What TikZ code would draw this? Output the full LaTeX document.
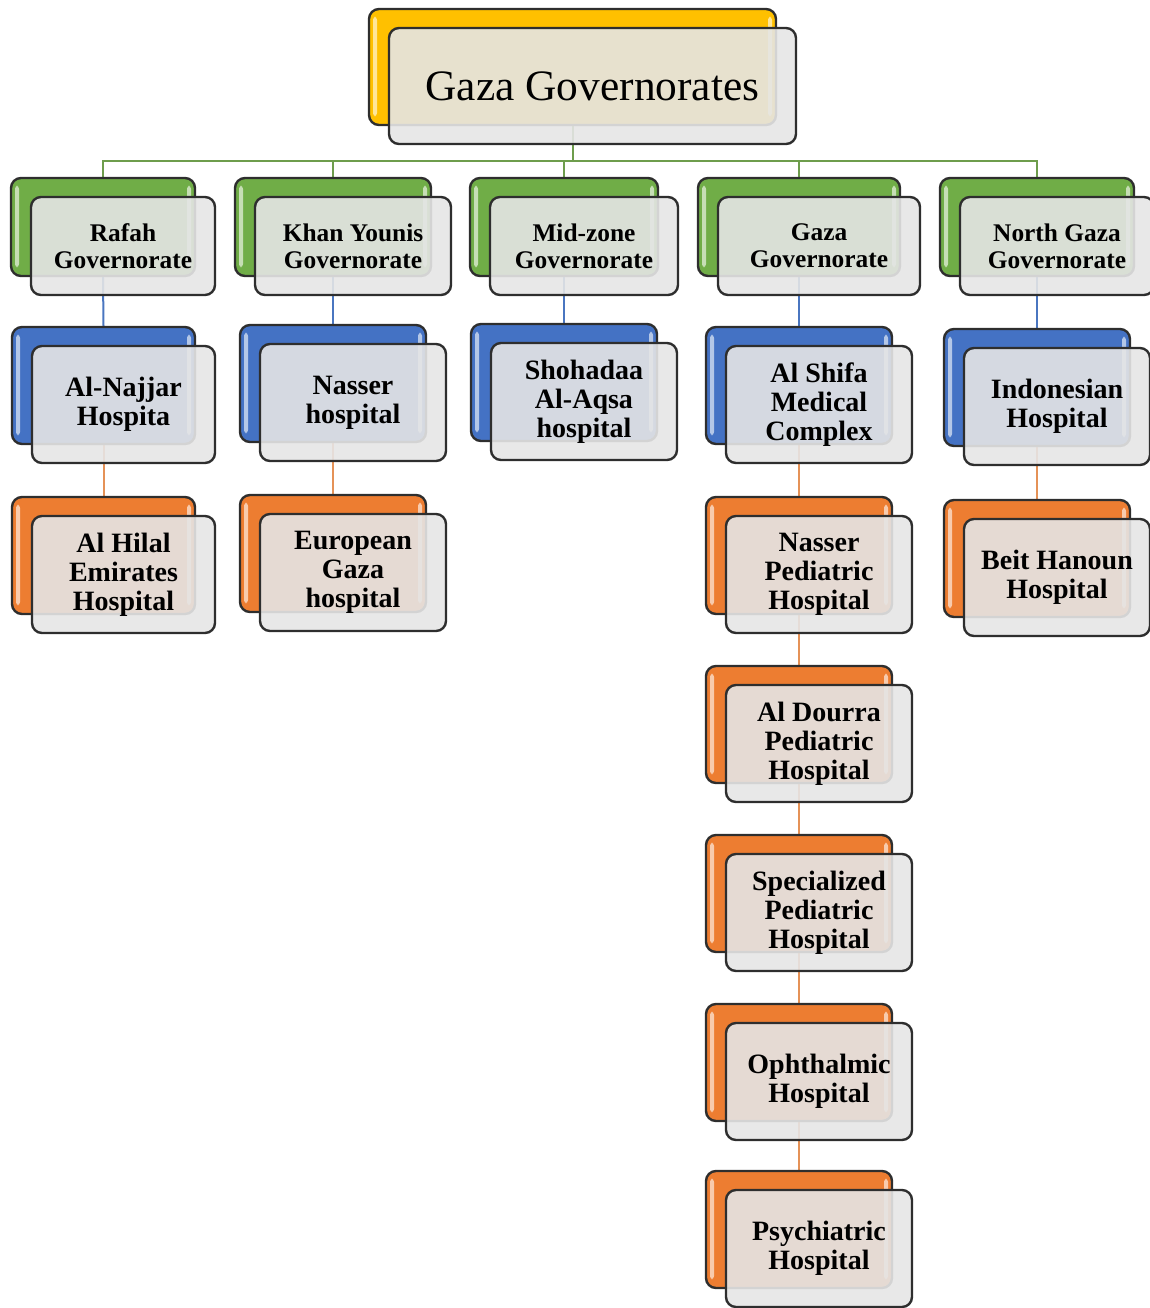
\documentclass[tikz,border=0pt]{standalone}
\usepackage{fontspec}
\setmainfont{Liberation Serif}
\usetikzlibrary{calc}
\pgfdeclarelayer{bg}
\pgfsetlayers{bg,main}
\definecolor{cyel}{HTML}{FFC000}
\definecolor{cgrn}{HTML}{70AD47}
\definecolor{cblu}{HTML}{4472C4}
\definecolor{corg}{HTML}{ED7D31}
\definecolor{cfront}{HTML}{E5E5E5}
\definecolor{cedge}{HTML}{2E2E2E}
\definecolor{lgrn}{HTML}{6E9D4C}
\definecolor{lblu}{HTML}{4A76C0}
\definecolor{lorg}{HTML}{E59257}
\tikzset{
  backbox/.style={draw=cedge, line width=1.2pt, rounded corners=5pt, inner sep=0pt},
  frontbox/.style={draw=cedge, line width=1.2pt, rounded corners=5pt, fill=cfront,
    fill opacity=0.9, text opacity=1, inner sep=0pt, align=center, text=black},
  govtxt/.style={font=\fontsize{12.7}{13.5}\selectfont\bfseries},
  hosptxt/.style={font=\fontsize{14}{14.6}\selectfont\bfseries},
  toptxt/.style={font=\fontsize{21.7}{24}\selectfont},
  gline/.style={draw=lgrn, line width=1pt},
  bline/.style={draw=lblu, line width=1pt},
  oline/.style={draw=lorg, line width=1pt},
}
\newcommand\twobox[8]{%
  \pgfmathsetmacro\bw{#5/2}\pgfmathsetmacro\bh{#6/2}%
  \node[backbox, fill=#2, minimum width=\bw pt, minimum height=\bh pt] (#1B) at ({#3+#5/2},{#4+#6/2}) {};
  \fill[#2!40!white, rounded corners=1.5pt] ([xshift=2.6pt,yshift=-4.5pt]#1B.north west) rectangle ([xshift=4.6pt,yshift=5pt]#1B.south west);
  \fill[#2!40!white, rounded corners=1.5pt] ([xshift=-4.6pt,yshift=-4.5pt]#1B.north east) rectangle ([xshift=-2.6pt,yshift=5pt]#1B.south east);
  \node[frontbox, #7, minimum width=\bw pt, minimum height=\bh pt] (#1) at ({#3+#5/2+20},{#4+#6/2+19}) {#8};
}
\begin{document}
\begin{tikzpicture}[x=0.5pt, y=-0.5pt]
\useasboundingbox (0,0) rectangle (1150,1308);
% top
\twobox{top}{cyel}{369}{9}{407}{116}{toptxt}{Gaza Governorates}
% governorates
\twobox{rafah}{cgrn}{11}{178}{184}{98}{govtxt}{Rafah\\Governorate}
\twobox{khan}{cgrn}{235}{178}{196}{98}{govtxt}{Khan Younis\\Governorate}
\twobox{mid}{cgrn}{470}{178}{188}{98}{govtxt}{Mid-zone\\Governorate}
\twobox{gaza}{cgrn}{698}{178}{202}{98}{govtxt}{Gaza\\Governorate}
\twobox{north}{cgrn}{940}{178}{194}{98}{govtxt}{North Gaza\\Governorate}
% blue
\twobox{najjar}{cblu}{12}{327}{183}{117}{hosptxt}{Al-Najjar\\Hospita}
\twobox{nasser}{cblu}{240}{325}{186}{117}{hosptxt}{Nasser\\hospital}
\twobox{shohadaa}{cblu}{471}{324}{186}{117}{hosptxt}{Shohadaa\\Al-Aqsa\\hospital}
\twobox{shifa}{cblu}{706}{327}{186}{117}{hosptxt}{Al Shifa\\Medical\\Complex}
\twobox{indo}{cblu}{944}{329}{186}{117}{hosptxt}{Indonesian\\Hospital}
% orange
\twobox{hilal}{corg}{12}{497}{183}{117}{hosptxt}{Al Hilal\\Emirates\\Hospital}
\twobox{euro}{corg}{240}{495}{186}{117}{hosptxt}{European\\Gaza\\hospital}
\twobox{nped}{corg}{706}{497}{186}{117}{hosptxt}{Nasser\\Pediatric\\Hospital}
\twobox{beit}{corg}{944}{500}{186}{117}{hosptxt}{Beit Hanoun\\Hospital}
\twobox{dourra}{corg}{706}{666}{186}{117}{hosptxt}{Al Dourra\\Pediatric\\Hospital}
\twobox{spec}{corg}{706}{835}{186}{117}{hosptxt}{Specialized\\Pediatric\\Hospital}
\twobox{oph}{corg}{706}{1004}{186}{117}{hosptxt}{Ophthalmic\\Hospital}
\twobox{psy}{corg}{706}{1171}{186}{117}{hosptxt}{Psychiatric\\Hospital}
% connectors
\begin{pgfonlayer}{bg}
\path (topB.south) ++(0,35) coordinate (bus);
\draw[gline] (topB.south) -- (bus);
\foreach \g in {rafah,khan,mid,gaza,north}{\draw[gline] (bus) -| (\g B.north);}
\draw[bline] (rafahB.south) -- (najjarB.north);
\draw[bline] (khanB.south) -- (nasserB.north);
\draw[bline] (midB.south) -- (shohadaaB.north);
\draw[bline] (gazaB.south) -- (shifaB.north);
\draw[bline] (northB.south) -- (indoB.north);
\draw[oline] (najjarB.south) -- (hilalB.north);
\draw[oline] (nasserB.south) -- (euroB.north);
\draw[oline] (shifaB.south) -- (npedB.north);
\draw[oline] (indoB.south) -- (beitB.north);
\draw[oline] (npedB.south) -- (dourraB.north);
\draw[oline] (dourraB.south) -- (specB.north);
\draw[oline] (specB.south) -- (ophB.north);
\draw[oline] (ophB.south) -- (psyB.north);
\end{pgfonlayer}
\end{tikzpicture}
\end{document}
